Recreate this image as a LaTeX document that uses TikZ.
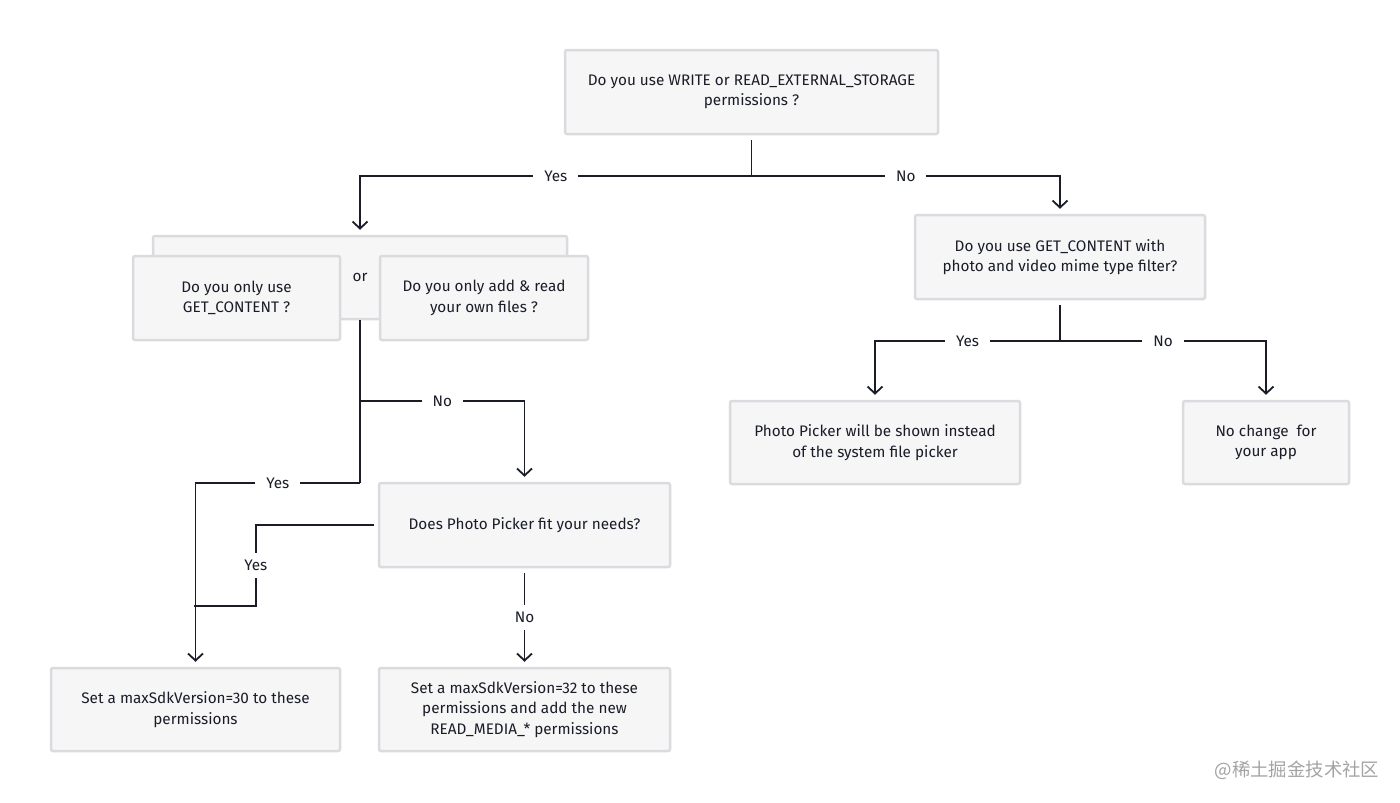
\documentclass[tikz,border=0pt]{standalone}
\usepackage{fontspec}
\setmainfont{Fira Sans}
\newfontfamily\cjkfont{Noto Sans CJK SC}
\usepackage{xcolor}
\usepackage{tikz}
\usetikzlibrary{arrows.meta}
\definecolor{Ink}{HTML}{1A1D28}
\definecolor{BoxFill}{HTML}{F6F6F7}
\definecolor{BoxEdge}{HTML}{DADADF}
\definecolor{Mark}{HTML}{A3A3A3}
\tikzset{
  box/.style={draw=BoxEdge, fill=BoxFill, line width=2.5pt, rounded corners=2pt, align=center, inner sep=0pt, text=Ink, font=\fontsize{15.3}{20.5}\selectfont},
  link/.style={line width=1.8pt, color=Ink},
  flow/.style={link, -{Straight Barb[length=7pt, width=15pt]}, shorten >=5pt},
  choice/.style={fill=white, inner xsep=11pt, inner ysep=7pt, text=Ink, font=\fontsize{15.3}{16}\selectfont},
}

\begin{document}
\begin{tikzpicture}[x=1pt, y=-1pt]
  \useasboundingbox (0,0) rectangle (1400,803);

  \node[box, minimum width=373pt, minimum height=84pt] (storage) at (751.5,92) {Do you use WRITE or READ\_EXTERNAL\_STORAGE\\permissions ?};

  \node[box, minimum width=414pt, minimum height=83pt] (either) at (360,277.5) {or};
  \node[box, minimum width=207pt, minimum height=84pt] (getonly) at (236.5,298) {Do you only use\\GET\_CONTENT ?};
  \node[box, minimum width=208pt, minimum height=84pt] (ownfiles) at (484,298) {Do you only add \& read\\your own files ?};
  \node[box, minimum width=291pt, minimum height=84pt] (pick) at (524.5,525) {Does Photo Picker fit your needs?};
  \node[box, minimum width=289pt, minimum height=83pt] (thirty) at (195.5,709.5) {Set a maxSdkVersion=30 to these\\permissions};
  \node[box, minimum width=291pt, minimum height=83pt] (thirtytwo) at (524.5,709.5) {Set a maxSdkVersion=32 to these\\permissions and add the new\\READ\_MEDIA\_* permissions};

  \node[box, minimum width=290pt, minimum height=84pt] (mime) at (1060,257) {Do you use GET\_CONTENT with\\photo and video mime type filter?};
  \node[box, minimum width=290pt, minimum height=83pt] (picker) at (875,442.5) {Photo Picker will be shown instead\\of the system file picker};
  \node[box, minimum width=166pt, minimum height=83pt] (nochange) at (1266,442.5) {No change~ for\\your app};

  \draw[link, shorten <=5pt] (storage.south) -- ++(0,41) coordinate (split);
  \draw[flow] (split) -- node[choice] {Yes} (split -| either.north) -- (either.north);
  \draw[flow] (split) -- node[choice] {No} (split -| mime.north) -- (mime.north);

  \coordinate (nofork) at (360,401);
  \coordinate (yesfork) at (360,483);
  \draw[link] (either.south) -- (yesfork);
  \draw[flow] (nofork) -- node[choice] {No} (nofork -| pick.north) -- (pick.north);
  \draw[flow] (yesfork) -- node[choice] {Yes} (yesfork -| thirty.north) -- (thirty.north);
  \draw[link, shorten <=4pt] (pick.west) -- ++(-122,0) -- node[choice] {Yes} ++(0,81) -- ++(-62,0);
  \draw[flow, shorten <=5pt] (pick.south) -- node[choice] {No} (thirtytwo.north);

  \draw[link, shorten <=5pt] (mime.south) -- ++(0,41) coordinate (mimesplit);
  \draw[flow] (mimesplit) -- node[choice] {Yes} (mimesplit -| picker.north) -- (picker.north);
  \draw[flow] (mimesplit) -- node[choice] {No} (mimesplit -| nochange.north) -- (nochange.north);

  \node[text=Mark, font=\cjkfont\fontsize{18.4}{18.4}\selectfont] (mark) at (1297,770) {@稀土掘金技术社区};
\end{tikzpicture}
\end{document}
